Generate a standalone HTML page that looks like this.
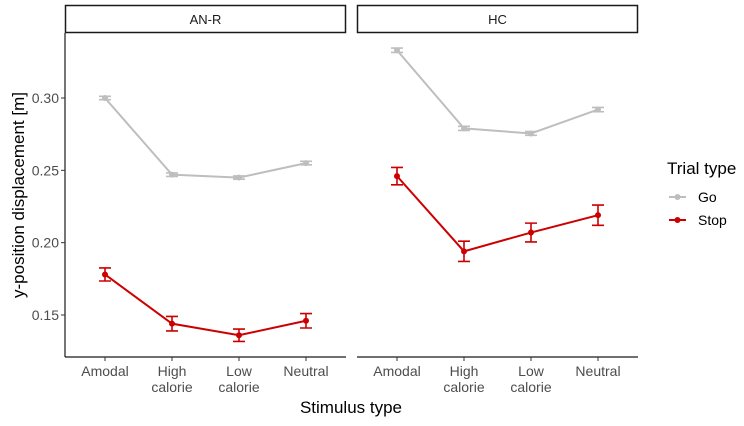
<!DOCTYPE html>
<html><head><meta charset="utf-8"><style>
body{margin:0;background:#fff;font-family:"Liberation Sans",Arial,sans-serif}
svg text{font-family:"Liberation Sans",Arial,sans-serif}
</style></head><body>
<svg id="chart" width="744" height="421" xmlns="http://www.w3.org/2000/svg">
<rect width="744" height="421" fill="#fff"/>
</svg>
<script>
const categories = ["Amodal", "High\ncalorie", "Low\ncalorie", "Neutral"];
const panels = ["AN-R", "HC"];
const goANR = [0.300, 0.247, 0.245, 0.255];
const goANRerr = [0.0012, 0.0012, 0.0011, 0.0012];
const stopANR = [0.178, 0.144, 0.136, 0.146];
const stopANRerr = [0.0045, 0.005, 0.0043, 0.005];
const goHC = [0.333, 0.279, 0.2755, 0.292];
const goHCerr = [0.0015, 0.0014, 0.0013, 0.0015];
const stopHC = [0.246, 0.194, 0.207, 0.219];
const stopHCerr = [0.006, 0.007, 0.0065, 0.007];
const yTicks = [0.15, 0.20, 0.25, 0.30];

const NS = "http://www.w3.org/2000/svg";
const svg = document.getElementById("chart");
function mk(tag, attrs, parent) {
  const e = document.createElementNS(NS, tag);
  for (const k in attrs) e.setAttribute(k, attrs[k]);
  (parent || svg).appendChild(e);
  return e;
}
const plotTop = 33, plotBottom = 357;
const panelX = [65, 357], panelW = 281;
function y(v) { return 98 + (0.30 - v) / 0.05 * 72.33; }
function x(p, i) { return panelX[p] + 40 + i * 67; }

const seriesData = [
  [{v: goANR, e: goANRerr, c: "#bebebe", n: "go"}, {v: stopANR, e: stopANRerr, c: "#cc0000", n: "stop"}],
  [{v: goHC, e: goHCerr, c: "#bebebe", n: "go"}, {v: stopHC, e: stopHCerr, c: "#cc0000", n: "stop"}]
];

panels.forEach((name, p) => {
  const px = panelX[p];
  const strip = mk("rect", {x: px + 0.5, y: 5.5, width: panelW - 1, height: 27, fill: "#fff", stroke: "#1a1a1a", "stroke-width": 1.5});
  
  
  const st = mk("text", {x: px + panelW / 2, y: 24, "text-anchor": "middle", "font-size": 13, fill: "#1a1a1a"});
  st.textContent = name;
  
  
  const xa = mk("line", {x1: px, x2: px + panelW, y1: plotBottom, y2: plotBottom, stroke: "#1a1a1a", "stroke-width": 1.2});
  
  
  if (p === 0) {
    const ya = mk("line", {x1: px, x2: px, y1: plotTop, y2: plotBottom, stroke: "#1a1a1a", "stroke-width": 1.2});
    
    
    yTicks.forEach(t => {
      const tk = mk("line", {x1: px - 4, x2: px, y1: y(t), y2: y(t), stroke: "#333"});
      
      
      const tl = mk("text", {x: px - 6, y: y(t) + 5, "text-anchor": "end", "font-size": 14, fill: "#4d4d4d"});
      tl.textContent = t.toFixed(2);
      
      
    });
  }
  categories.forEach((c, i) => {
    const tk = mk("line", {x1: x(p, i), x2: x(p, i), y1: plotBottom, y2: plotBottom + 4, stroke: "#333"});
    
    
    c.split("\n").forEach((ln, j) => {
      const tl = mk("text", {x: x(p, i), y: 376 + j * 16, "text-anchor": "middle", "font-size": 14, fill: "#4d4d4d"});
      tl.textContent = ln;
      
      
    });
  });
  seriesData[p].forEach(s => {
    const pts = s.v.map((v, i) => x(p, i) + "," + y(v)).join(" ");
    const pl = mk("polyline", {points: pts, fill: "none", stroke: s.c, "stroke-width": 2});
    
    
    s.v.forEach((v, i) => {
      const cx = x(p, i), y1 = y(v + s.e[i]), y2 = y(v - s.e[i]);
      const g = mk("path", {d: `M${cx-6},${y1}H${cx+6}M${cx},${y1}V${y2}M${cx-6},${y2}H${cx+6}`, stroke: s.c, "stroke-width": 1.6, fill: "none"});
      
      
      const pt = mk("circle", {cx: cx, cy: y(v), r: 3, fill: s.c});
      
      
    });
  });
});

const yt = mk("text", {x: 0, y: 0, transform: "translate(24,195) rotate(-90)", "text-anchor": "middle", "font-size": 17, fill: "#000"});
yt.textContent = "y-position displacement [m]";


const xt = mk("text", {x: 351, y: 413, "text-anchor": "middle", "font-size": 17, fill: "#000"});
xt.textContent = "Stimulus type";



const lt = mk("text", {x: 667, y: 174, "font-size": 17, fill: "#000"});
lt.textContent = "Trial type";


[["Go", "#bebebe", 197], ["Stop", "#cc0000", 220]].forEach(([n, c, ly]) => {
  const l = mk("line", {x1: 669, x2: 686, y1: ly, y2: ly, stroke: c, "stroke-width": 2});
  
  
  const d = mk("circle", {cx: 677.5, cy: ly, r: 3, fill: c});
  
  
  const t = mk("text", {x: 698, y: ly + 5, "font-size": 14, fill: "#000"});
  t.textContent = n;
  
  
});
</script>
</body></html>
